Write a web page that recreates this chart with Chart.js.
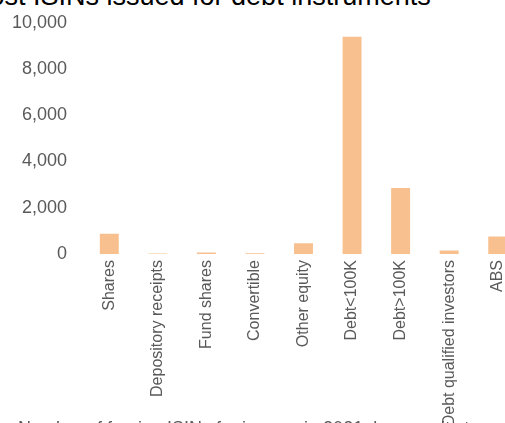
<!DOCTYPE html>
<html>
<head>
<meta charset="utf-8">
<script src="https://cdn.jsdelivr.net/npm/chart.js@4"></script>
<style>
  html, body { margin: 0; padding: 0; background: #fff; overflow: hidden; }
  body { width: 505px; height: 423px; position: relative; font-family: "Liberation Sans", Arial, sans-serif; }
  #title { position: absolute; left: -33px; top: -17px; font-size: 27px; line-height: 27px; color: #000; white-space: nowrap; }
  #caption { position: absolute; left: 18px; top: 419px; font-size: 18px; line-height: 18px; color: #595959; white-space: nowrap; }
  #wrap { position: absolute; left: 0; top: -6px; width: 570px; height: 450px; }
</style>
</head>
<body>
<div id="title">Most ISINs issued for debt instruments</div>
<div id="wrap"><canvas id="isinChart"></canvas></div>
<div id="caption">Number of foreign ISINs for issuers in 2021, by security type</div>
<script>
// categories and values
const categories = ['Shares', 'Depository receipts', 'Fund shares', 'Convertible', 'Other equity',
  'Debt<100K', 'Debt>100K', 'Debt qualified investors', 'ABS'];
const isinCounts = [880, 20, 60, 30, 460, 9400, 2850, 150, 760];
const yTicks = [0, 2000, 4000, 6000, 8000, 10000];

const ctx = document.getElementById('isinChart').getContext('2d');
new Chart(ctx, {
  type: 'bar',
  data: {
    labels: categories,
    datasets: [{
      label: 'Foreign ISINs',
      data: isinCounts,
      backgroundColor: '#F9C08F',
      categoryPercentage: 1,
      barPercentage: 0.39
    }]
  },
  options: {
    responsive: true,
    maintainAspectRatio: false,
    animation: false,
    layout: { padding: { top: 21, right: 48, left: 0, bottom: 0 } },
    plugins: { legend: { display: false }, tooltip: { enabled: false } },
    scales: {
      x: {
        grid: { display: false, drawTicks: false },
        border: { display: false },
        ticks: {
          autoSkip: false,
          minRotation: 90,
          maxRotation: 90,
          padding: 6,
          color: '#595959',
          font: { family: 'Liberation Sans', size: 16 }
        },
        afterFit: function(scale) { scale.height = 190; }
      },
      y: {
        min: 0,
        max: 10000,
        grid: { display: false, drawTicks: false },
        border: { display: false },
        afterBuildTicks: function(scale) { scale.ticks = yTicks.map(v => ({ value: v })); },
        ticks: {
          padding: 18,
          color: '#595959',
          font: { family: 'Liberation Sans', size: 18 },
          callback: v => v.toLocaleString('en-US')
        },
        afterFit: function(scale) { scale.width = 85; }
      }
    }
  }
});
</script>
</body>
</html>
